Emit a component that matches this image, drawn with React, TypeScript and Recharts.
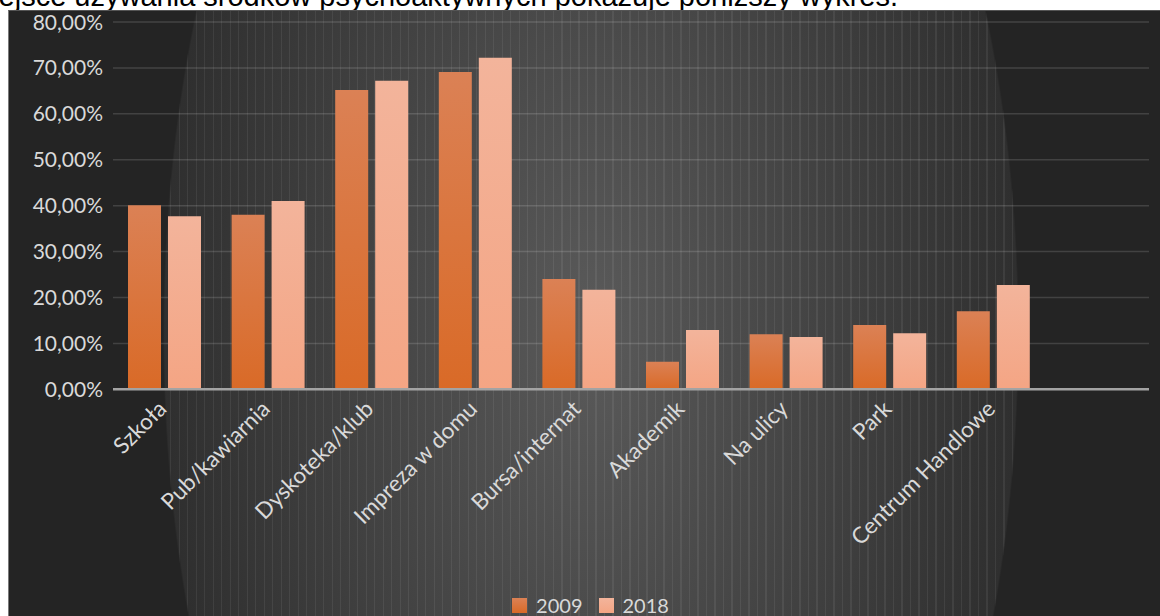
import React from "react";
import {
  BarChart,
  Bar,
  XAxis,
  YAxis,
  CartesianGrid,
  Legend,
} from "recharts";

const categories = [
  "Szkoła",
  "Pub/kawiarnia",
  "Dyskoteka/klub",
  "Impreza w domu",
  "Bursa/internat",
  "Akademik",
  "Na ulicy",
  "Park",
  "Centrum Handlowe",
  "",
];
const values2009 = [40.1, 38.0, 65.2, 69.1, 24.0, 6.0, 12.0, 14.0, 17.0, null];
const values2018 = [37.7, 41.0, 67.2, 72.2, 21.7, 12.9, 11.4, 12.2, 22.7, null];
const yTicks = [0, 10, 20, 30, 40, 50, 60, 70, 80];

const data = categories.map((name, i) => ({
  name,
  y2009: values2009[i],
  y2018: values2018[i],
}));

const FONT = "Lato, 'Open Sans', sans-serif";
const LABEL = "#d9d9d9";
const ELLIPSE = "ellipse 428px 840px at 582px 322px";

const fmtPct = (v: number) => `${v.toFixed(2).replace(".", ",")}%`;

const XTick = ({ x, y, payload }: { x?: number; y?: number; payload?: { value: string } }) => {
  if (!payload?.value) return null;
  const ax = (x ?? 0) + 3;
  const ay = (y ?? 0) + 21;
  return (
    <text
      x={ax}
      y={ay}
      textAnchor="end"
      fill={LABEL}
      fontSize={22.5}
      fontFamily={FONT}
      transform={`rotate(-45, ${ax}, ${ay})`}
    >
      {payload.value}
    </text>
  );
};

const LegendBox = () => (
  <div
    style={{
      height: 20,
      display: "flex",
      justifyContent: "center",
      alignItems: "center",
      fontFamily: FONT,
      fontSize: 20,
      color: LABEL,
      gap: 16,
    }}
  >
    {[
      { label: "2009", bg: "linear-gradient(#db8155, #d96a27)" },
      { label: "2018", bg: "linear-gradient(#f3b49b, #f4a584)" },
    ].map((it) => (
      <div key={it.label} style={{ display: "flex", alignItems: "center", gap: 9 }}>
        <span style={{ width: 15, height: 15, background: it.bg, display: "inline-block" }} />
        <span>{it.label}</span>
      </div>
    ))}
  </div>
);

export default function App() {
  return (
    <div
      style={{
        position: "fixed",
        left: 0,
        top: 0,
        width: 1160,
        height: 616,
        overflow: "hidden",
        background: "#ffffff",
      }}
    >
      <svg
        width={1160}
        height={10}
        style={{ position: "absolute", left: 0, top: 0, overflow: "hidden" }}
      >
        <text
          x={-32}
          y={5.5}
          fontSize={29}
          fontFamily="'Liberation Sans', Arial, sans-serif"
          fill="#000"
        >
          Miejsce używania środków psychoaktywnych pokazuje poniższy wykres.
        </text>
      </svg>
      <div
        style={{
          position: "absolute",
          left: 8,
          top: 10,
          width: 1152,
          height: 606,
          boxSizing: "border-box",
          borderLeft: "1px solid #7a7a7a",
          borderTop: "1px solid #555",
          background: `radial-gradient(${ELLIPSE}, #5a5a5a 0%, #2f2f2f 99.6%, #242424 100%)`,
        }}
      >
        {/* faint streak texture inside the lit area */}
        <div
          style={{
            position: "absolute",
            inset: 0,
            background:
              "repeating-linear-gradient(90deg, rgba(255,255,255,0.07) 0px, rgba(255,255,255,0.07) 1px, transparent 1px, transparent 8.5px)",
            WebkitMaskImage: `radial-gradient(${ELLIPSE}, #000 99.6%, transparent 100%)`,
            maskImage: `radial-gradient(${ELLIPSE}, #000 99.6%, transparent 100%)`,
          }}
        />
        <div style={{ position: "absolute", left: -1, top: -1 }}>
          <BarChart
            width={1152}
            height={606}
            data={data}
            margin={{ top: 12, right: 11, bottom: 1, left: 0 }}
            barSize={33}
            barGap={7}
          >
            <defs>
              <linearGradient id="g2009" x1="0" y1="0" x2="0" y2="1">
                <stop offset="0%" stopColor="#db8155" />
                <stop offset="100%" stopColor="#d96a27" />
              </linearGradient>
              <linearGradient id="g2018" x1="0" y1="0" x2="0" y2="1">
                <stop offset="0%" stopColor="#f3b49b" />
                <stop offset="100%" stopColor="#f4a584" />
              </linearGradient>
            </defs>
            <CartesianGrid
              vertical={false}
              stroke="rgba(255,255,255,0.14)"
              strokeWidth={1.5}
            />
            <XAxis
              dataKey="name"
              interval={0}
              height={205.7}
              tickLine={false}
              tickSize={0}
              tickMargin={0}
              axisLine={{ stroke: "#a3a3a3", strokeWidth: 2.5 }}
              tick={<XTick />}
            />
            <YAxis
              width={105}
              domain={[0, 80]}
              ticks={yTicks}
              tickFormatter={fmtPct}
              axisLine={false}
              tickLine={false}
              tickSize={0}
              tickMargin={10}
              tick={{ fill: LABEL, fontSize: 21, fontFamily: FONT }}
            />
            <Legend
              verticalAlign="bottom"
              content={<LegendBox />}
              wrapperStyle={{ left: 6.5, width: 1152 }}
            />
            <Bar dataKey="y2009" name="2009" fill="url(#g2009)" isAnimationActive={false} />
            <Bar dataKey="y2018" name="2018" fill="url(#g2018)" isAnimationActive={false} />
          </BarChart>
        </div>
      </div>
    </div>
  );
}
